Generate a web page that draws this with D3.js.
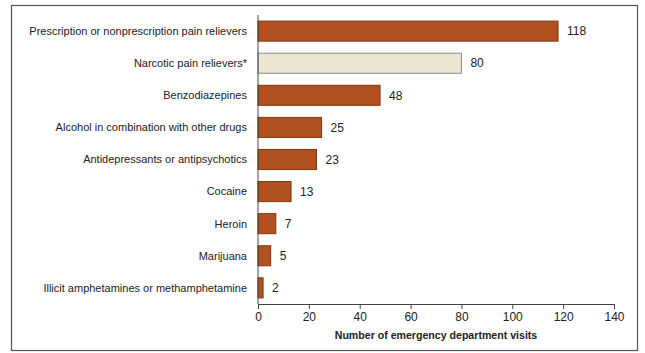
<!DOCTYPE html>
<html>
<head>
<meta charset="utf-8">
<script src="https://cdn.jsdelivr.net/npm/d3@7"></script>
<style>
  body { margin: 0; background: #fff; }
  svg text { font-family: "Liberation Sans", Arial, sans-serif; fill: #222; }
</style>
</head>
<body>
<div id="chart"></div>
<script>
var categories = [
  "Prescription or nonprescription pain relievers",
  "Narcotic pain relievers*",
  "Benzodiazepines",
  "Alcohol in combination with other drugs",
  "Antidepressants or antipsychotics",
  "Cocaine",
  "Heroin",
  "Marijuana",
  "Illicit amphetamines or methamphetamine"
];
var visits = [118, 80, 48, 25, 23, 13, 7, 5, 2];
var highlighted = [false, true, false, false, false, false, false, false, false];
var xTicks = [0, 20, 40, 60, 80, 100, 120, 140];
var xTitle = "Number of emergency department visits";

function drawChart(id){
  var width = 645, height = 353;
  var x0 = 258, x1 = 614, yTop = 15, yAxis = 304;

  var df = categories.map(function(c, i){
    return {name: c, value: visits[i], light: highlighted[i]};
  });

  var div = d3.select(id);
  div.select("svg").remove();

  var svg = div.append("svg")
      .attr("width", width)
      .attr("height", height);

  // outer frame
  svg.append("rect")
      .attr("x", 11.5).attr("y", 5.5)
      .attr("width", 626).attr("height", 345)
      .attr("fill", "none")
      .attr("stroke", "#555")
      .attr("stroke-width", 1.2);

  var xScale = d3.scaleLinear()
      .domain([0, 140])
      .range([x0, x1]);

  var yScale = d3.scaleBand()
      .domain(categories)
      .range([yTop, yAxis])
      .paddingInner(0.375)
      .paddingOuter(0.19);

  svg.selectAll("rect.bar")
    .data(df)
    .enter()
    .append("rect")
      .attr("class", "bar")
      .attr("x", xScale(0))
      .attr("y", function(d){ return yScale(d.name); })
      .attr("width", function(d){ return xScale(d.value) - xScale(0); })
      .attr("height", yScale.bandwidth())
      .attr("fill", function(d){ return d.light ? "#EEE6D5" : "#B0511F"; })
      .attr("stroke", function(d){ return d.light ? "#8a8a80" : "#7d3715"; })
      .attr("stroke-width", 1);

  // value labels
  svg.selectAll("text.val")
    .data(df)
    .enter()
    .append("text")
      .attr("class", "val")
      .attr("x", function(d){ return xScale(d.value) + 9; })
      .attr("y", function(d){ return yScale(d.name) + yScale.bandwidth() / 2; })
      .attr("dy", "0.35em")
      .style("font-size", "12px")
      .text(function(d){ return d.value; });

  // category labels
  svg.selectAll("text.cat")
    .data(df)
    .enter()
    .append("text")
      .attr("class", "cat")
      .attr("x", 247)
      .attr("y", function(d){ return yScale(d.name) + yScale.bandwidth() / 2; })
      .attr("dy", "0.35em")
      .attr("text-anchor", "end")
      .style("font-size", "11px")
      .text(function(d){ return d.name; });

  // y axis line
  svg.append("line")
      .attr("x1", x0).attr("x2", x0)
      .attr("y1", yTop).attr("y2", yAxis)
      .attr("stroke", "#444");

  var g = svg.append("g")
      .attr("transform", "translate(0," + yAxis + ")")
      .call(d3.axisBottom(xScale).tickValues(xTicks).tickSize(5).tickSizeOuter(0));
  g.select(".domain").attr("stroke", "#444");
  g.selectAll(".tick line").attr("stroke", "#444");
  g.selectAll("text")
      .attr("dy", "0.71em")
      .attr("y", 8)
      .style("font-size", "12px")
      .style("font-family", "Liberation Sans, Arial, sans-serif")
      .attr("fill", "#222");

  svg.append("text")
      .attr("x", xScale(70))
      .attr("y", 339)
      .attr("text-anchor", "middle")
      .style("font-size", "10.6px")
      .style("font-weight", "bold")
      .text(xTitle);
}

drawChart("#chart");
</script>
</body>
</html>
